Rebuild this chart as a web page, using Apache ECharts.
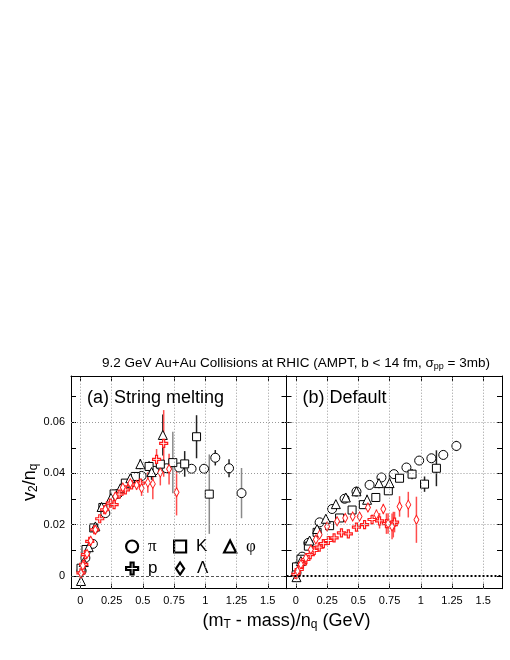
<!DOCTYPE html>
<html>
<head>
<meta charset="utf-8">
<script src="https://cdn.jsdelivr.net/npm/echarts@6/dist/echarts.min.js"></script>
<style>
  html, body { margin: 0; padding: 0; background: #fff; }
  #chart { width: 510px; height: 660px; }
</style>
</head>
<body>
<div id="chart"></div>
<script>
// [x, v2/nq, error]
var smPion = [[0.01,0.002,0],[0.04,0.007,0],[0.1,0.0125,0],[0.2,0.0245,0],[0.3,0.032,0],[0.4,0.036,0],[0.49,0.039,0],[0.59,0.041,0],[0.69,0.042,0],[0.79,0.0423,0],[0.89,0.0418,0],[0.99,0.0418,0.0015],[1.08,0.0461,0.003],[1.19,0.042,0.0035],[1.29,0.0323,0.0098]];
var smKaon = [[0.005,0.003,0],[0.045,0.0103,0],[0.107,0.0187,0],[0.18,0.0267,0],[0.27,0.032,0],[0.36,0.0362,0],[0.44,0.0388,0],[0.55,0.0427,0.002],[0.64,0.0436,0.002],[0.74,0.0442,0.012],[0.835,0.0437,0.005],[0.93,0.0543,0.0084],[1.032,0.0319,0.0155]];
var smPhi = [[0.005,-0.002,0],[0.027,0.0054,0],[0.067,0.0112,0],[0.12,0.0193,0],[0.17,0.0269,0],[0.245,0.0304,0],[0.32,0.0342,0],[0.4,0.0381,0],[0.48,0.0436,0.002],[0.57,0.0405,0.003],[0.66,0.055,0.008]];
var smProton = [[0.005,0.0012,0],[0.027,0.0045,0],[0.04,0.0083,0],[0.075,0.0135,0],[0.115,0.018,0],[0.155,0.0223,0],[0.195,0.0258,0],[0.24,0.0284,0],[0.27,0.0278,0],[0.31,0.0319,0],[0.36,0.0336,0],[0.41,0.0355,0],[0.48,0.0362,0.001],[0.61,0.0455,0.004],[0.667,0.0517,0.013]];
var smLambda = [[0.005,0.001,0],[0.02,0.004,0],[0.053,0.0086,0],[0.083,0.0137,0],[0.12,0.018,0],[0.2,0.026,0],[0.28,0.031,0],[0.34,0.0345,0],[0.4,0.0362,0.001],[0.45,0.0355,0.002],[0.49,0.0342,0.003],[0.54,0.0364,0.004],[0.58,0.0359,0.006],[0.64,0.0403,0.005],[0.71,0.0417,0.006],[0.77,0.0326,0.009]];

var dfPion = [[0.005,0.0012,0],[0.02,0.004,0],[0.05,0.0075,0],[0.1,0.0129,0],[0.19,0.0209,0],[0.29,0.0261,0],[0.39,0.0301,0],[0.485,0.0329,0],[0.59,0.0355,0],[0.685,0.0384,0],[0.785,0.0397,0],[0.885,0.0423,0],[0.987,0.045,0],[1.085,0.0459,0],[1.18,0.0472,0.0015],[1.285,0.0507,0.002]];
var dfKaon = [[0.005,0.0035,0],[0.04,0.0065,0],[0.1,0.0116,0],[0.17,0.017,0],[0.27,0.0196,0],[0.35,0.0226,0],[0.45,0.0257,0],[0.54,0.0278,0],[0.64,0.0306,0],[0.74,0.0332,0.001],[0.83,0.0381,0.001],[0.93,0.0397,0.002],[1.03,0.0358,0.003],[1.125,0.042,0.007]];
var dfPhi = [[0.005,-0.0005,0],[0.04,0.0058,0],[0.11,0.0138,0],[0.17,0.0183,0],[0.24,0.0223,0],[0.32,0.028,0],[0.4,0.0306,0],[0.485,0.033,0],[0.57,0.0297,0.002],[0.665,0.0362,0.002],[0.75,0.0362,0.004]];
var dfProton = [[0,0.0006,0],[0.027,0.0025,0],[0.053,0.0047,0],[0.08,0.0064,0],[0.115,0.0083,0],[0.147,0.0099,0],[0.187,0.0112,0],[0.22,0.0126,0],[0.26,0.0138,0],[0.306,0.0148,0],[0.365,0.0168,0],[0.42,0.0164,0],[0.485,0.019,0],[0.55,0.02,0.001],[0.61,0.022,0.002],[0.67,0.0215,0.003],[0.725,0.0204,0.004],[0.78,0.02,0.005],[0.79,0.021,0.004]];
var dfLambda = [[0.013,0.0019,0],[0.04,0.0045,0],[0.08,0.007,0],[0.12,0.0103,0],[0.16,0.0142,0],[0.19,0.0161,0],[0.25,0.0193,0],[0.33,0.0213,0],[0.395,0.0226,0],[0.455,0.0232,0],[0.51,0.0232,0.001],[0.577,0.0267,0.001],[0.645,0.0239,0.002],[0.7,0.0261,0.002],[0.738,0.0204,0.004],[0.77,0.0193,0.005],[0.83,0.0271,0.004],[0.9,0.0278,0.005],[0.965,0.0219,0.009]];

var xTicks = [0, 0.25, 0.5, 0.75, 1, 1.25, 1.5];
var yTicks = [0, 0.01, 0.02, 0.03, 0.04, 0.05, 0.06, 0.07];
var yLabels = [0, 0.02, 0.04, 0.06];

var crossPath = 'path://M3,0H5V3H8V5H5V8H3V5H0V3H3Z';
var RED = '#ff1a1a';

var myChart = echarts.init(document.getElementById('chart'));

function xAxisFor(grid, top) {
  return {
    type: 'value', gridIndex: grid, position: top ? 'top' : 'bottom',
    min: -0.075, max: 1.65,
    axisLine: { show: true, onZero: false, lineStyle: { color: '#000', width: 1 } },
    axisTick: { show: true, inside: true, length: 5, customValues: xTicks, lineStyle: { color: '#000' } },
    axisLabel: { show: !top, customValues: xTicks, color: '#000', fontSize: 11, margin: 7,
      fontFamily: 'Liberation Sans' },
    splitLine: { show: false }
  };
}
function yAxisFor(grid, right) {
  var a = {
    type: 'value', gridIndex: grid, position: right ? 'right' : 'left',
    min: -0.005, max: 0.078,
    axisLine: { show: true, onZero: false, lineStyle: { color: '#000', width: 1 } },
    axisTick: { show: true, inside: true, length: 5, customValues: yTicks, lineStyle: { color: '#000' } },
    axisLabel: { show: grid === 0 && !right, customValues: yLabels, color: '#000', fontSize: 11, margin: 6,
      fontFamily: 'Liberation Sans' },
    splitLine: { show: false }
  };
  if (grid === 0 && !right) {
    a.name = 'v{sub|2}/n{sub|q}';
    a.nameLocation = 'middle';
    a.nameRotate = 90;
    a.nameGap = 30;
    a.nameTextStyle = { fontSize: 18, color: '#000', fontFamily: 'Liberation Sans',
      rich: { sub: { fontSize: 12, padding: [7, 0, 0, 0], fontFamily: 'Liberation Sans' } } };
  }
  return a;
}

function gridLines(grid, zeroStyle) {
  var d = [];
  xTicks.forEach(function (v) { d.push({ xAxis: v }); });
  [0.02, 0.04, 0.06].forEach(function (v) { d.push({ yAxis: v }); });
  return [{
    type: 'scatter', xAxisIndex: grid, yAxisIndex: grid, data: [], silent: true, z: 0,
    markLine: { silent: true, symbol: 'none', animation: false, label: { show: false },
      lineStyle: { color: '#999', type: [1, 2], width: 1 }, data: d }
  }, {
    type: 'scatter', xAxisIndex: grid, yAxisIndex: grid, data: [], silent: true, z: 1,
    markLine: { silent: true, symbol: 'none', animation: false, label: { show: false },
      lineStyle: zeroStyle, data: [{ yAxis: 0 }] }
  }];
}

function errBars(grid, data, color) {
  return {
    type: 'custom', xAxisIndex: grid, yAxisIndex: grid, silent: true, z: 2,
    data: data.filter(function (d) { return d[2] > 0; }),
    encode: { x: 0, y: 1 },
    renderItem: function (params, api) {
      var x = api.value(0), y = api.value(1), e = api.value(2);
      var p1 = api.coord([x, y - e]), p2 = api.coord([x, y + e]);
      var c = color;
      if (color !== RED && e >= 0.0095) c = '#8a8a8a';
      return { type: 'line', shape: { x1: p1[0], y1: p1[1], x2: p2[0], y2: p2[1] },
        style: { stroke: c === RED ? '#ff4d4d' : c, lineWidth: 1.5 } };
    }
  };
}

function marks(grid, name, data, symbol, size, color, bw) {
  return {
    type: 'scatter', name: name, xAxisIndex: grid, yAxisIndex: grid, z: 3,
    data: data, encode: { x: 0, y: 1 },
    symbol: symbol, symbolSize: size,
    itemStyle: { color: '#fff', borderColor: color, borderWidth: bw, opacity: 1 }
  };
}

var panels = [
  [smPion, smKaon, smPhi, smProton, smLambda],
  [dfPion, dfKaon, dfPhi, dfProton, dfLambda]
];
var names = ['π', 'K', 'φ', 'p', 'Λ'];

var series = [];
series = series.concat(gridLines(0, { color: '#555', type: [3, 2], width: 1 }));
series = series.concat(gridLines(1, { color: '#000', type: [2, 2], width: 2 }));
panels.forEach(function (p, g) {
  series.push(errBars(g, p[0], '#222'));
  series.push(errBars(g, p[1], '#222'));
  series.push(errBars(g, p[2], '#222'));
  series.push(errBars(g, p[3], RED));
  series.push(errBars(g, p[4], RED));
  series.push(marks(g, names[0], p[0], 'circle', 9, '#000', 1));
  series.push(marks(g, names[1], p[1], 'rect', 8, '#000', 1));
  series.push(marks(g, names[2], p[2], 'triangle', 9, '#000', 1));
  series.push(marks(g, names[3], p[3], crossPath, 8, RED, 1.2));
  series.push(marks(g, names[4], p[4], 'diamond', [5, 9], RED, 1));
});

var legendPos = [[125, 538], [173, 538], [223, 538], [125, 560], [175, 560]];
var legendIcon = ['circle', 'rect', 'triangle', crossPath, 'diamond'];
var legendFont = ['Liberation Serif', 'Liberation Sans', 'Liberation Serif', 'Liberation Sans', 'Liberation Sans'];
var legends = names.map(function (n, i) {
  return {
    data: [n], left: legendPos[i][0], top: legendPos[i][1], padding: 0,
    itemWidth: i === 4 ? 8 : 12, itemHeight: 12, icon: legendIcon[i],
    selectedMode: false,
    itemStyle: { color: '#fff', borderColor: '#000', borderWidth: 2.2 },
    textStyle: { color: '#000', fontSize: 17, fontFamily: legendFont[i], padding: [0, 0, 0, i === 4 ? 8 : 5] }
  };
});

var option = {
  animation: false,
  backgroundColor: '#fff',
  grid: [
    { left: 71, top: 376, width: 215.5, height: 212.7 },
    { left: 286.5, top: 376, width: 215.5, height: 212.7 }
  ],
  xAxis: [xAxisFor(0, false), xAxisFor(1, false), xAxisFor(0, true), xAxisFor(1, true)],
  yAxis: [yAxisFor(0, false), yAxisFor(1, false), yAxisFor(0, true), yAxisFor(1, true)],
  legend: legends,
  graphic: [
    { type: 'text', x: 296, y: 363, z: 10,
      style: { text: '9.2 GeV Au+Au Collisions at RHIC (AMPT, b < 14 fm, σ{sub|pp} = 3mb)',
        align: 'center', verticalAlign: 'middle', fill: '#000', fontSize: 13.5, fontFamily: 'Liberation Sans',
        rich: { sub: { fontSize: 9, padding: [7, 0, 0, 0], fontFamily: 'Liberation Sans' } } } },
    { type: 'text', x: 87, y: 398, z: 10,
      style: { text: '(a) String melting', align: 'left', verticalAlign: 'middle', fill: '#000',
        fontSize: 18, fontFamily: 'Liberation Sans' } },
    { type: 'text', x: 302.5, y: 398, z: 10,
      style: { text: '(b) Default', align: 'left', verticalAlign: 'middle', fill: '#000',
        fontSize: 18, fontFamily: 'Liberation Sans' } },
    { type: 'text', x: 286.5, y: 621, z: 10,
      style: { text: '(m{sub|T} - mass)/n{sub|q} (GeV)', align: 'center', verticalAlign: 'middle', fill: '#000',
        fontSize: 18, fontFamily: 'Liberation Sans',
        rich: { sub: { fontSize: 12, padding: [8, 0, 0, 0], fontFamily: 'Liberation Sans' } } } }
  ],
  series: series
};

myChart.setOption(option);
</script>
</body>
</html>
